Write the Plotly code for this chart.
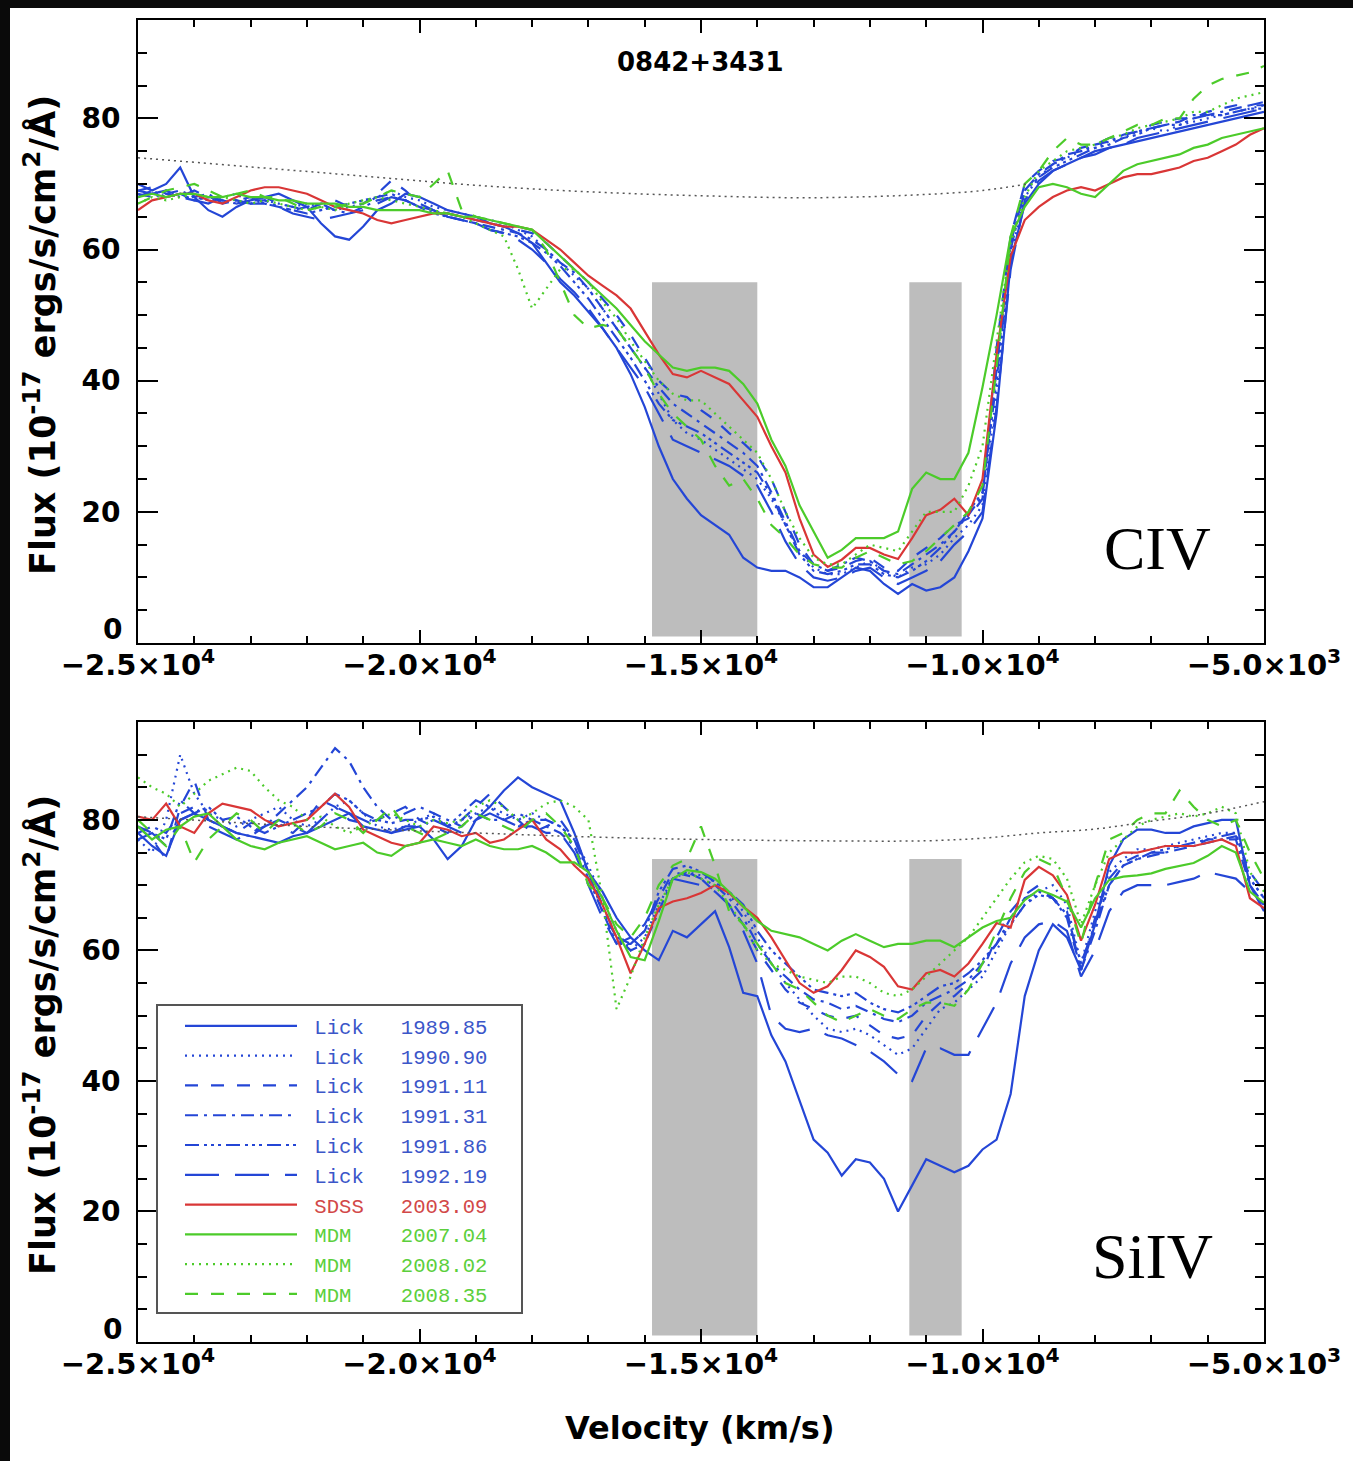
import plotly.graph_objects as go

# ---------------- data ----------------
vel = list(range(-25000, -4999, 250))  # km/s, 81 samples

# CIV panel
civ_lick_198985 = [70, 69, 70, 72.5, 68, 66, 65, 66.5, 67.5, 68, 68.5, 67.5, 66.5, 64, 62, 61.5, 63.5, 66, 67, 68.5,
                   68, 67, 66, 65.5, 65, 64, 63.5, 62.5, 61, 58, 55, 53, 50.5, 48, 45, 41, 36, 30, 25, 22,
                   19.5, 18, 16.5, 13, 11.5, 11, 11, 10, 8.5, 8.5, 10, 11.5, 11, 9, 7.5, 9, 8, 8.5, 10, 14,
                   19, 35, 58, 67, 70, 72, 73, 74, 74.5, 75.5, 76, 76.5, 77, 77.5, 78, 78.5, 79, 79.5, 80, 80.5,
                   81]
civ_lick_199090 = [68, 68.5, 69, 68, 68, 67.5, 68, 68.5, 67, 67.5, 67, 66.5, 67, 66.5, 66, 66.5, 67, 68, 69, 68,
                   67.5, 66.5, 66, 65.5, 65, 64.5, 64, 63, 62, 60, 58, 56, 54, 51, 48, 45, 42, 38, 34, 32,
                   31, 29.5, 28, 26.5, 25, 22, 18, 14, 11.5, 10.5, 10.5, 11.5, 12.5, 11, 10, 11.5, 12, 13.5, 16, 18,
                   21, 38, 59, 68, 71, 73, 74, 75, 75.5, 76.5, 77, 78, 78.5, 78, 79, 79.5, 80, 80.5, 81, 81.5,
                   82]
civ_lick_199111 = [69, 69.5, 68.5, 68, 69, 68, 67.5, 67, 67.5, 68, 67, 66.5, 66, 67, 67.5, 66.5, 67, 68.5, 70.5, 69,
                   67, 66, 65.5, 65, 64.5, 64, 63.5, 63, 62.5, 61, 59, 57, 55, 52.5, 50, 47, 43.5, 40, 38, 37.5,
                   35.5, 34, 32, 30.5, 28.5, 25, 20, 15, 12, 11, 11.5, 12.5, 13, 11.5, 11, 13, 14.5, 16, 18, 19,
                   22, 45, 62, 70, 72, 73.5, 74, 75.5, 76, 77, 77.5, 78, 79, 79.5, 80, 80, 81, 81.5, 82, 82,
                   82.5]
civ_lick_199131 = [68.5, 68, 68.5, 69, 68, 68.5, 67, 67.5, 68, 67, 66.5, 66, 66.5, 67, 66, 65.5, 66.5, 67.5, 68, 67.5,
                   66.5, 66, 65, 64.5, 64, 63.5, 63, 62.5, 61.5, 60, 58, 56.5, 54, 51, 48, 45, 42, 39, 36.5, 35,
                   33.5, 32, 30.5, 29, 27, 23, 18.5, 14, 12, 11, 12, 13, 12.5, 11, 10.5, 12, 13.5, 15, 17, 19.5,
                   22.5, 42, 61, 69, 71.5, 73, 74.5, 75, 76, 76.5, 77.5, 78, 78.5, 79, 79.5, 80.5, 80.5, 81, 81.5, 82,
                   82]
civ_lick_199186 = [68, 69, 68, 68.5, 67.5, 68, 67.5, 67, 67.5, 67.5, 66.5, 66, 65.5, 66, 66.5, 67, 67.5, 68, 68.5, 67.5,
                   66.5, 65.5, 65, 64.5, 64, 63, 62.5, 62, 61, 59.5, 57.5, 55, 52.5, 49.5, 46.5, 43.5, 40, 36.5, 34, 33,
                   32, 30.5, 29, 27.5, 26, 22.5, 18, 13.5, 11, 10.5, 11, 12, 12, 10.5, 10, 11, 12.5, 14.5, 17, 20,
                   23, 40, 60, 69, 71, 72.5, 73.5, 74.5, 75.5, 76, 77, 77.5, 78.5, 79, 79, 80, 80.5, 80.5, 81, 81.5,
                   81.5]
civ_lick_199219 = [69, 68.5, 69, 68, 67.5, 67, 68, 67.5, 67, 67, 66.5, 65.5, 65, 64.5, 65, 65.5, 66, 67, 68, 67.5,
                   66.5, 66, 65, 64.5, 64, 63, 62.5, 61.5, 60, 58, 55.5, 53.5, 51, 48, 45, 42, 39, 35, 31, 30,
                   29, 28, 27, 25.5, 24, 20, 15.5, 12, 10, 9.5, 10, 11, 11.5, 10, 9, 10, 11, 12.5, 15, 17,
                   20, 36, 57, 67.5, 70.5, 72, 73, 74, 75, 75.5, 76, 77, 77.5, 78, 78.5, 79, 79.5, 80, 80.5, 81,
                   81.5]
civ_sdss_200309 = [66, 67.5, 68, 68.5, 68.5, 67.5, 67, 68, 69, 69.5, 69.5, 69, 68.5, 67.5, 66.5, 66, 65.5, 64.5, 64, 64.5,
                   65, 65.5, 65.5, 65, 64.5, 64, 63.5, 63.5, 63, 61.5, 60, 58, 56, 54.5, 53, 51, 47.5, 44, 41, 40.5,
                   41.5, 40.5, 39.5, 37, 34.5, 30, 26, 19, 13.5, 11.6, 12.7, 14.5, 14.5, 13.5, 12.8, 16, 19.5, 20.3, 22, 19.5,
                   25, 44, 59, 64.5, 66.5, 68, 69, 69.5, 69, 70, 71, 71.5, 71.5, 72, 72.5, 73.5, 74, 75, 76, 77.5,
                   78.5]
civ_mdm_200704 = [68, 68.5, 68, 68.5, 68.5, 68, 68, 68.5, 68, 68, 67.5, 67.5, 67, 67, 67, 66.5, 66.5, 66, 66, 66,
                  66, 65.5, 65.5, 65, 65, 64.5, 64, 63.5, 63, 61, 59, 57, 55, 53, 51, 48.5, 46, 44, 42, 41.5,
                  42, 42, 41.5, 39.5, 36.5, 31, 27, 21, 17, 13, 14.2, 16, 16, 16, 17, 23.5, 26, 25, 25, 29,
                  39, 50, 62, 66.5, 69.5, 70, 69.5, 68.5, 68, 70, 72, 73, 73.5, 74, 74.5, 75.5, 76, 77, 77.5, 78,
                  78.5]
civ_mdm_200802 = [67, 68, 67.5, 68, 68.5, 68, 68, 67.5, 67, 67.5, 67, 66.5, 66, 66.5, 66, 67, 67.5, 68, 67.5, 67,
                  66.5, 66, 65.5, 65, 64, 63, 62, 57, 51, 54, 57, 57, 55, 52, 49.5, 46, 43, 40, 38, 37,
                  37, 35, 33, 31, 29, 25, 20, 16, 13, 12, 12, 13.5, 15, 14.5, 14, 17, 20, 20, 20, 24,
                  30, 46, 61, 68, 72, 73.5, 75, 75.5, 76, 77, 77.5, 78.5, 79, 79.5, 80, 81, 81, 82, 83, 83.5,
                  84]
civ_mdm_200835 = [67, 68, 69, 69.5, 70, 69, 68, 68.5, 69, 68, 68, 67, 66, 66.5, 66.5, 67, 67, 68, 69, 68.5,
                  68, 70, 72, 66, 65, 64.5, 64, 63.5, 63, 60, 55, 50, 48, 48.5, 48, 45, 42, 38, 35, 33,
                  31, 27, 24, 25, 22, 18, 16, 13.5, 12, 11.5, 11.5, 13, 14, 13, 12, 12.5, 14, 16, 18, 20,
                  24, 42, 62, 70, 72, 75, 77, 76, 76, 77, 78, 79, 79, 80, 80, 83, 85, 86, 86.5, 87,
                  88]

# SiIV panel
siiv_lick_198985 = [78, 76, 74.5, 80, 81, 80, 79, 78, 77.5, 77, 76.5, 77.5, 78, 79, 80, 81, 79, 78.5, 78, 78.5,
                    79, 77, 74, 76, 80, 82, 84.5, 86.5, 85, 84, 83, 78, 72, 69, 65, 62, 60, 58.5, 63, 62,
                    64, 66, 60.5, 53.5, 53, 47, 43, 37, 31, 29, 25.5, 28, 27.5, 25, 20, 24, 28, 27, 26, 27,
                    29.5, 31, 38, 53, 60, 64, 62, 57, 64, 73, 77, 78.5, 78.5, 78, 78, 79, 79.5, 80, 80, 70,
                    66]
siiv_lick_199090 = [77, 75, 80, 90, 84, 81, 80, 79, 80, 81, 82, 80, 79, 80, 82, 83, 81, 79, 78.5, 79,
                    80, 81, 79, 80, 81, 82, 81, 80, 81, 80, 79, 77, 73, 68, 63, 60, 62, 67, 71, 72,
                    71.5, 70.5, 68.5, 66, 62, 58, 55, 52.5, 50, 48, 47.5, 48, 47, 45.5, 44, 45, 48, 51, 52, 54,
                    56, 60, 64, 67, 69, 70, 67, 58, 66, 72, 74, 75.5, 75.5, 76, 76.5, 77, 77.5, 78, 78, 71,
                    68]
siiv_lick_199111 = [79, 77, 74, 82, 86, 80, 79, 78, 79.5, 80, 79, 78, 80, 83, 82, 80, 79.5, 80, 81, 82,
                    80, 79, 78, 80, 82, 84, 82, 80, 78, 79, 80, 77, 72, 67, 62, 61, 63, 68, 72, 71.5,
                    71, 69, 67, 64, 60, 57, 54, 52, 51, 50, 49.5, 50, 48.5, 47, 46.5, 47, 50, 52, 53, 55,
                    57, 62, 66, 68.5, 70, 68, 66, 57, 65, 71, 73.5, 74.5, 75, 75, 76, 76, 77, 77, 77.5, 72,
                    69]
siiv_lick_199131 = [78, 79, 78, 81, 82, 80, 79, 78, 77.5, 79, 81, 83, 85, 88, 91, 89, 85, 82, 80, 81,
                    82, 81, 80, 79, 81, 80, 80, 81, 80, 79, 78, 76, 71, 66, 62, 60, 61, 66, 71, 72,
                    71, 70, 68, 65, 61, 58, 56, 54, 52.5, 52, 51, 51.5, 50.5, 49.5, 49, 50, 52, 53, 54, 55.5,
                    58, 61, 65, 68, 69, 68, 65, 57, 63, 70, 73, 74, 74.5, 75, 75.5, 76, 76.5, 77, 77, 70,
                    67]
siiv_lick_199186 = [79, 78, 77, 83, 81, 82, 80, 80.5, 79, 78, 79, 80, 81, 82, 84, 83, 81, 80, 79.5, 80,
                    80, 80.5, 79, 81, 83, 82, 80, 79, 80, 80, 79, 77, 72, 66, 61, 61, 63, 69, 72.5, 73,
                    72, 70.5, 69, 67, 63, 60, 58, 56, 54, 53.5, 53, 53.5, 52, 51, 50.5, 51.5, 53, 54.5, 55, 56.5,
                    58.5, 61, 64, 67, 68.5, 68, 65.5, 58, 64, 70, 73, 74, 75, 75.5, 76, 76.5, 77, 77.5, 78, 71,
                    68]
siiv_lick_199219 = [77, 78, 76, 80, 81, 79, 78, 77, 78, 79, 80, 79, 78, 80, 82, 81, 80, 79, 78, 79,
                    79, 80, 79, 78, 80, 81, 80, 79, 79, 78, 78, 75, 70, 65, 61, 62, 64, 68, 71, 70.5,
                    70, 69, 67, 63, 58, 50, 48, 47.5, 48, 47, 46.5, 45.5, 44.5, 43, 41, 40, 45, 45, 44, 44,
                    48, 52, 58, 62, 64, 64.5, 63, 56, 60, 66, 69, 70, 70, 70, 70.5, 71, 72, 71.5, 71, 69,
                    67]
siiv_sdss_200309 = [80.5, 80, 82.5, 79, 78, 81, 82.5, 82, 81.5, 80, 79, 79.5, 80, 82, 84, 82, 78.5, 77.5, 76.5, 76,
                    76.5, 79, 78.5, 77.5, 78, 76.5, 77, 78.5, 80, 77, 75.5, 73, 71, 67, 62, 56.5, 61, 66.5, 67.5, 68,
                    68.8, 70, 68.8, 66.7, 65, 62, 58.5, 55, 53.5, 54.5, 57, 60, 59, 57.5, 54.5, 54, 56.5, 57, 56, 58,
                    61, 64.2, 63.5, 70.8, 72.8, 71.5, 68.5, 61.5, 67, 74, 75, 75, 75.5, 76, 76, 76, 76.5, 77, 76, 68,
                    66.5]
siiv_mdm_200704 = [79, 77, 78.5, 79, 80.5, 81, 79, 77, 76, 75.5, 76.5, 77, 77.5, 76.5, 75.5, 76, 76.5, 75, 74.5, 76,
                   76.5, 77, 76.5, 76, 77, 76, 75.5, 75.5, 76, 75, 73.5, 73.5, 72, 68, 63, 59, 58.5, 64.5, 71, 72.3,
                   72, 71, 69, 66.7, 64.5, 63, 62.5, 62, 61, 60, 61.5, 62.5, 61.5, 60.5, 61, 61, 61.5, 61.5, 60.5, 62,
                   63.5, 64.5, 65, 67.7, 69.3, 68.5, 67.5, 63.5, 68, 70.8, 71.3, 71.5, 71.8, 72.5, 73, 73.4, 74.5, 76, 75, 69,
                   67.3]
siiv_mdm_200802 = [86.5, 85, 84, 82, 84, 86, 87, 88, 87.5, 85, 83, 82, 80, 80.5, 79, 78, 79, 80, 81, 80,
                   79, 80, 79.5, 80, 82, 83, 82, 80, 81, 82.5, 83, 82, 80, 68, 51, 56, 62, 67, 71, 72,
                   71, 70, 67, 64, 60, 58, 57, 56, 55.5, 55, 56, 56, 55, 53.5, 53, 54, 56, 58, 60, 62,
                   65, 68, 71, 73.5, 74.5, 74, 71, 64, 70, 75, 77, 79, 80, 80.5, 81, 80.5, 81, 82, 81, 72,
                   69]
siiv_mdm_200835 = [80, 78, 76, 79, 73.5, 77, 79, 81, 80, 78, 80, 79.5, 78, 79, 81, 80, 78, 80, 82, 79,
                   78, 77, 78, 79, 81, 80, 79, 78, 80, 81, 79, 76, 70, 68, 64, 62, 65, 70, 73, 74,
                   79, 73, 66, 64, 61, 58, 55, 54, 52, 50, 49, 50, 51, 50, 49.5, 51, 52, 52, 51.5, 54,
                   58, 63, 68, 72, 74, 73, 68, 61, 70, 77, 78, 80, 81, 81, 84.5, 82, 80, 79, 80, 75,
                   71]

# continuum fits (dotted)
cont_vel_civ = [-25000, -23000, -21000, -19000, -17000, -15000, -13000, -11000, -10000, -9200]
cont_civ = [74, 72.6, 71.2, 69.8, 68.8, 68.2, 67.9, 68.4, 69.0, 70.0]
cont_vel_siiv = [-25000, -22000, -19000, -17000, -15000, -13000, -11000, -10000, -9000, -8000, -7000, -6000, -5000]
cont_siiv = [80.5, 79, 78, 77.4, 77, 76.8, 76.8, 77.2, 78, 78.6, 79.8, 81, 82.8]

# shaded velocity windows
box_v0 = [-15870, -11300]
box_v1 = [-14000, -10370]
box_low = 1
box_high_civ = 55
box_high_siiv = 74

epochs = ["1989.85", "1990.90", "1991.11", "1991.31", "1991.86", "1992.19", "2003.09", "2007.04", "2008.02", "2008.35"]
sources = ["Lick", "Lick", "Lick", "Lick", "Lick", "Lick", "SDSS", "MDM", "MDM", "MDM"]
civ_sets = [civ_lick_198985, civ_lick_199090, civ_lick_199111, civ_lick_199131, civ_lick_199186,
            civ_lick_199219, civ_sdss_200309, civ_mdm_200704, civ_mdm_200802, civ_mdm_200835]
siiv_sets = [siiv_lick_198985, siiv_lick_199090, siiv_lick_199111, siiv_lick_199131, siiv_lick_199186,
             siiv_lick_199219, siiv_sdss_200309, siiv_mdm_200704, siiv_mdm_200802, siiv_mdm_200835]

x_tickvals = [-25000, -20000, -15000, -10000, -5000]
x_ticktext = ["\u22122.5\u00d710<sup>4</sup>", "\u22122.0\u00d710<sup>4</sup>", "\u22121.5\u00d710<sup>4</sup>",
              "\u22121.0\u00d710<sup>4</sup>", "\u22125.0\u00d710<sup>3</sup>"]
y_tickvals = [0, 20, 40, 60, 80]
y_ticktext = ["", "20", "40", "60", "80"]   # the "0" label sits just above the axis, drawn separately
zero_label = "0"

for arr in civ_sets + siiv_sets:
    assert len(arr) == len(vel), len(arr)

# ---------------- styles ----------------
BLUE, RED, GREEN = "#2446d6", "#d93636", "#4ccb2a"
TBLUE, TRED, TGREEN = "#3b56c9", "#d24848", "#5ccf3c"
line_col = {"Lick": BLUE, "SDSS": RED, "MDM": GREEN}
text_col = {"Lick": TBLUE, "SDSS": TRED, "MDM": TGREEN}
dashes = ["solid", "2px,5px", "13px,13px", "13px,6px,3px,6px", "14px,5px,3px,4px,3px,4px,3px,5px",
          "34px,16px", "solid", "solid", "2px,5px", "13px,13px"]
NB = "\u00a0"
gaps = {"Lick": NB * 3, "SDSS": NB * 3, "MDM": NB * 4}

fig = go.Figure()

for i in range(10):
    src = sources[i]
    label = "<span style='color:%s'>%s%s%s%s</span>" % (text_col[src], NB, src, gaps[src], epochs[i])
    fig.add_trace(go.Scatter(x=vel, y=civ_sets[i], mode="lines", name=label, legendgroup=str(i),
                             line=dict(color=line_col[src], width=2.2, dash=dashes[i]),
                             xaxis="x", yaxis="y", showlegend=True))
    fig.add_trace(go.Scatter(x=vel, y=siiv_sets[i], mode="lines", name=label, legendgroup=str(i),
                             line=dict(color=line_col[src], width=2.2, dash=dashes[i]),
                             xaxis="x2", yaxis="y2", showlegend=False))

fig.add_trace(go.Scatter(x=cont_vel_civ, y=cont_civ, mode="lines", showlegend=False,
                         line=dict(color="#555555", width=1.5, dash="2px,4px", shape="spline"), xaxis="x", yaxis="y"))
fig.add_trace(go.Scatter(x=cont_vel_siiv, y=cont_siiv, mode="lines", showlegend=False,
                         line=dict(color="#555555", width=1.5, dash="2px,4px", shape="spline"), xaxis="x2", yaxis="y2"))

W, H = 1353, 1461
ML, MR, MT, MB = 138, 89, 20, 119
PW, PH = W - ML - MR, H - MT - MB


def px(x):
    return (x - ML) / PW


def py(y):
    return (H - MB - y) / PH


shapes = []
for v0, v1 in zip(box_v0, box_v1):
    shapes.append(dict(type="rect", xref="x", yref="y", x0=v0, x1=v1, y0=box_low, y1=box_high_civ,
                       fillcolor="#bdbdbd", line=dict(width=0), layer="below"))
    shapes.append(dict(type="rect", xref="x2", yref="y2", x0=v0, x1=v1, y0=box_low, y1=box_high_siiv,
                       fillcolor="#bdbdbd", line=dict(width=0), layer="below"))

# legend frame
shapes.append(dict(type="rect", xref="paper", yref="paper", x0=px(157), x1=px(522), y0=py(1313), y1=py(1005),
                   fillcolor="white", line=dict(color="#555555", width=2), layer="above"))
# dark frame strips of the original screenshot
shapes.append(dict(type="rect", xref="paper", yref="paper", x0=px(0), x1=px(10), y0=py(H), y1=py(0),
                   fillcolor="#0a0a0a", line=dict(width=0), layer="above"))
shapes.append(dict(type="rect", xref="paper", yref="paper", x0=px(0), x1=px(W), y0=py(8), y1=py(0),
                   fillcolor="#0a0a0a", line=dict(width=0), layer="above"))

yfont = dict(family="DejaVu Sans", size=28, color="black", weight="bold")
xfont = dict(family="DejaVu Sans", size=29, color="black", weight="bold")
common_x = dict(range=[-25000, -5000], tickmode="array", tickvals=x_tickvals, ticktext=x_ticktext,
                showline=True, linecolor="black", linewidth=2, mirror="allticks",
                ticks="inside", ticklen=13, tickwidth=2, tickcolor="black",
                minor=dict(ticks="inside", ticklen=7, tickwidth=1.5, tickcolor="black", dtick=1000, tick0=-25000),
                showgrid=False, zeroline=False, tickfont=xfont, ticklabelstandoff=-5)
common_y = dict(range=[0, 95], tickmode="array", tickvals=y_tickvals, ticktext=y_ticktext,
                showline=True, linecolor="black", linewidth=2, mirror="allticks",
                ticks="inside", ticklen=20, tickwidth=2, tickcolor="black",
                minor=dict(ticks="inside", ticklen=9, tickwidth=1.5, tickcolor="black", dtick=5, tick0=0),
                showgrid=False, zeroline=False, tickfont=yfont, ticklabelstandoff=10)

top_lo = py(643)
bot_hi = py(722)

ytitle = "Flux (10<sup>-17</sup> ergs/s/cm<sup>2</sup>/\u00c5)"


def ann(text, x, y, font, angle=0, xanchor="center"):
    return dict(text=text, x=px(x), y=py(y), xref="paper", yref="paper", showarrow=False,
                xanchor=xanchor, yanchor="middle", textangle=angle, font=font)


fig.update_layout(
    width=W, height=H,
    margin=dict(l=ML, r=MR, t=MT, b=MB),
    paper_bgcolor="white", plot_bgcolor="white",
    xaxis=dict(common_x, anchor="y", domain=[0, 1]),
    yaxis=dict(common_y, anchor="x", domain=[top_lo, 1]),
    xaxis2=dict(common_x, anchor="y2", domain=[0, 1]),
    yaxis2=dict(common_y, anchor="x2", domain=[0, bot_hi]),
    shapes=shapes,
    showlegend=True,
    legend=dict(x=px(180), y=py(1006), xanchor="left", yanchor="top", bgcolor="rgba(0,0,0,0)",
                borderwidth=0, font=dict(family="Liberation Mono", size=20.6),
                itemwidth=112, tracegroupgap=0, traceorder="normal"),
    annotations=[
        ann("0842+3431", 700, 62, dict(family="DejaVu Sans", size=26, color="black", weight="bold")),
        ann("CIV", 1157, 548, dict(family="Liberation Serif", size=62, color="black")),
        ann("SiIV", 1152, 1256, dict(family="Liberation Serif", size=64, color="black")),
        ann(ytitle, 40, 335, dict(family="DejaVu Sans", size=35, color="black", weight="bold"), -90),
        ann(ytitle, 40, 1035, dict(family="DejaVu Sans", size=35, color="black", weight="bold"), -90),
        ann("Velocity (km/s)", 700, 1428, dict(family="DejaVu Sans", size=32, color="black", weight="bold")),
        ann(zero_label, 124, 630, yfont, xanchor="right"),
        ann(zero_label, 124, 1329, yfont, xanchor="right"),
    ],
)

fig.write_html("out.html")
